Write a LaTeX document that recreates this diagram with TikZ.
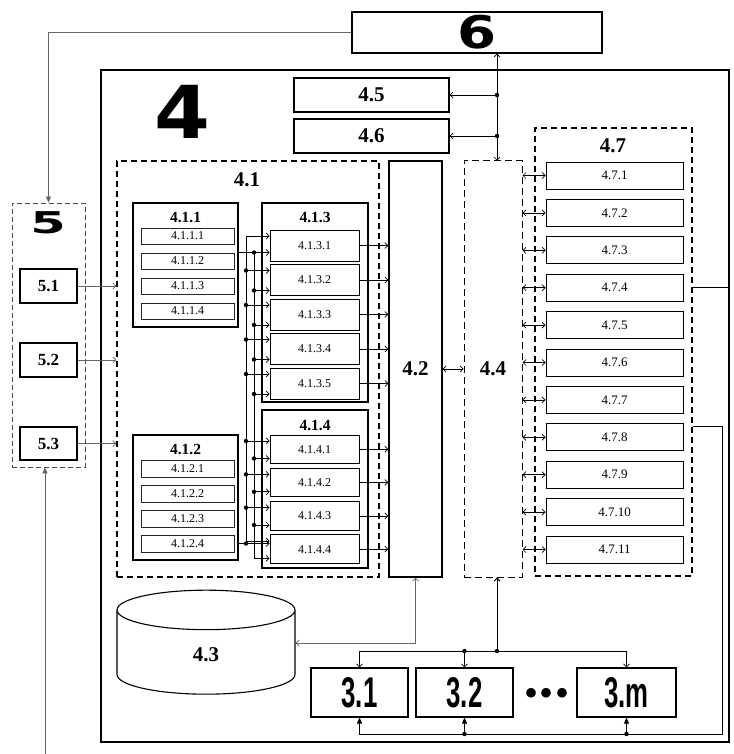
\documentclass[tikz,border=0pt]{standalone}
\usepackage{fontspec}
\setmainfont{Liberation Serif}
\newfontfamily\heavyfont{DejaVu Sans}
\newfontfamily\condfont{Liberation Sans}
\usetikzlibrary{arrows.meta, positioning, calc, shapes.geometric}

\begin{document}
\begin{tikzpicture}[x=1pt, y=-1pt,
  box/.style={rectangle, draw=black, line width=1.1pt, fill=white, inner sep=0pt},
  sub/.style={rectangle, draw=black!85, line width=0.8pt, inner sep=0pt,
              minimum width=93pt, minimum height=16pt, font=\fontsize{12}{12}\selectfont},
  unit/.style={rectangle, draw=black, line width=0.9pt, inner sep=0pt,
               minimum width=89pt, font=\fontsize{12}{12}\selectfont},
  reg/.style={rectangle, draw=black, line width=0.9pt, inner sep=0pt,
              minimum width=137pt, minimum height=27pt, font=\fontsize{13}{13}\selectfont},
  grp/.style={rectangle, draw=black, line width=1.4pt, dash pattern=on 6pt off 4pt, inner sep=0pt},
  big/.style={font=\fontsize{21}{21}\selectfont\bfseries},
  mid/.style={font=\fontsize{15.5}{15.5}\selectfont\bfseries},
  term/.style={rectangle, draw=black, line width=1.1pt, inner sep=0pt,
               minimum height=49pt, font=\condfont\bfseries\fontsize{43}{43}\selectfont},
  arr/.style={-{Straight Barb[length=3pt,width=6pt]}, line width=0.7pt},
  darr/.style={{Straight Barb[length=3pt,width=6pt]}-{Straight Barb[length=3pt,width=6pt]}, line width=0.7pt},
  farr/.style={-{Triangle[length=6pt,width=5pt]}, line width=0.7pt}
]
\useasboundingbox (0,0) rectangle (733,754);
%% Outer block and top block
\node[box, line width=2.2pt, minimum width=628pt, minimum height=672pt] (four) at (415,406) {};
\node[box, minimum width=250pt, minimum height=41pt,
      font=\heavyfont\bfseries\fontsize{45}{45}\selectfont] (six) at (477,32.5) {\scalebox{1.25}[1]{6}};
\node[font=\heavyfont\bfseries\fontsize{73}{73}\selectfont] (l4) at (182,112) {\scalebox{1.1}[1]{4}};
\node[box, big, minimum width=155pt, minimum height=34pt] (u45) at (371.5,95) {4.5};
\node[box, big, minimum width=155pt, minimum height=34pt] (u46) at (371.5,136) {4.6};
%% Groups
\node[grp, minimum width=262pt, minimum height=416pt] (g41) at (248,369) {};
\node[big] (l41) at (247,180) {4.1};
\node[box, big, line width=1.4pt, minimum width=53pt, minimum height=416pt] (u42) at (415.5,369) {4.2};
\node[grp, line width=1pt, dash pattern=on 7pt off 4pt, minimum width=58pt, minimum height=416pt, big] (g44) at (493,369) {4.4};
\node[grp, minimum width=157pt, minimum height=448pt] (g47) at (613.5,352) {};
\node[big] (l47) at (613,146) {4.7};
\node[grp, draw=black!70, line width=0.8pt, dash pattern=on 5pt off 3pt, minimum width=73pt, minimum height=264pt] (g5) at (48.5,335) {};
\node[font=\heavyfont\bfseries\fontsize{30}{30}\selectfont] (l5) at (48,223) {\scalebox{1.7}[1]{5}};
%% Sources 5.x
\node[box, font=\fontsize{17}{17}\selectfont\bfseries, minimum width=57pt, minimum height=34pt] (f1) at (48.5,286) {5.1};
\node[box, font=\fontsize{17}{17}\selectfont\bfseries, minimum width=57pt, minimum height=34pt] (f2) at (48.5,360) {5.2};
\node[box, font=\fontsize{17}{17}\selectfont\bfseries, minimum width=57pt, minimum height=33pt] (f3) at (48.5,443.5) {5.3};
%% Blocks inside 4.1
\node[box, minimum width=105pt, minimum height=124pt] (b411) at (185.5,265) {};
\node[mid] (l411) at (185.5,217) {4.1.1};
\node[box, minimum width=105pt, minimum height=125pt] (b412) at (185.5,497.5) {};
\node[mid] (l412) at (185.5,449) {4.1.2};
\node[box, minimum width=106pt, minimum height=199pt] (b413) at (315,302.5) {};
\node[mid] (l413) at (315,217) {4.1.3};
\node[box, minimum width=106pt, minimum height=158pt] (b414) at (315,489) {};
\node[mid] (l414) at (315,425) {4.1.4};
\foreach \k in {1,...,4}{
  \node[sub] (p\k) at (187.5,{236+25*(\k-1)}) {4.1.1.\k};
  \node[sub, minimum height=17pt] (q\k) at (187.5,{468.5+25*(\k-1)}) {4.1.2.\k};}
\foreach \k in {1,...,5}
  \node[unit, minimum height=31pt] (s\k) at (314.5,{245.5+34.5*(\k-1)}) {4.1.3.\k};
\foreach \k in {1,...,4}
  \node[unit, minimum height=28.5pt] (t\k) at (314.5,{449.25+33.3*(\k-1)}) {4.1.4.\k};
%% Registers 4.7.x
\foreach \i in {1,...,11}
  \node[reg] (r\i) at (614.5,{175.5+37.4*(\i-1)}) {4.7.\i};
%% Store and terminals
\node[draw, cylinder, shape border rotate=90, aspect=1.2, line width=1.1pt,
      minimum width=178pt, minimum height=104pt, big] (cyl) at (206,655) {4.3};
\node[term, minimum width=97pt] (c31) at (359.5,692.5) {\scalebox{0.6}[1]{3.1}};
\node[term, minimum width=97pt] (c32) at (464.5,692.5) {\scalebox{0.6}[1]{3.2}};
\node[term, minimum width=99pt] (c3m) at (626.5,692.5) {\scalebox{0.6}[1]{3.m}};
\node[font=\fontsize{40}{40}\selectfont] (etc) at (547,697) {\textbullet\hspace{1.5pt}\textbullet\hspace{1.5pt}\textbullet};
%% Bus from 6
\coordinate (sb) at (497,0);
\draw[darr] (six.south -| sb) -- (g44.north -| sb);
\foreach \u in {u45,u46}{
  \draw[arr] (\u.east -| sb) -- (\u.east);
  \fill (\u.east -| sb) circle (2.2pt);}
%% 6 -> 5 and input from below
\draw[farr, black!60] (six.west) -| (g5.north);
\coordinate (bl) at (45,754);
\draw[farr, black!60] (bl) -- (bl |- g5.south);
\foreach \f in {f1,f2,f3}
  \draw[arr, black!60] (\f.east) -- (\f.east -| g41.west);
%% Buses inside 4.1
\coordinate (busA) at (246,0);
\coordinate (busB) at (254,0);
\foreach \b in {s1,s2,s3,s4,s5,t1,t2,t3,t4}{
  \coordinate (\b a) at ($(\b.north west)+(0,6.5)$);
  \coordinate (\b b) at ($(\b.south west)+(0,-5.5)$);}
\coordinate (s1b) at ($(s1.south west)+(0,-9)$);
\draw[arr] (q4.east -| b412.east) -- (q4.east -| t4.west);
\draw[arr] (q4.east -| busA) -- (busA |- s1a) -- (s1a);
\fill (q4.east -| busA) circle (2.2pt);
\draw[arr] (b411.east |- s1b) -- (s1b);
\draw[arr] (busB |- s1b) -- (busB |- t4b) -- (t4b);
\fill (busB |- s1b) circle (2.2pt);
\foreach \b in {s2,s3,s4,s5,t1,t2,t3}{
  \draw[arr] (busA |- \b a) -- (\b a);
  \fill (busA |- \b a) circle (2.2pt);
  \draw[arr] (busB |- \b b) -- (\b b);
  \fill (busB |- \b b) circle (2.2pt);}
\draw[arr] (busA |- t4a) -- (t4a);
\foreach \b in {s1,s2,s3,s4,s5,t1,t2,t3,t4}
  \draw[arr] (\b.east) -- (\b.east -| u42.west);
%% 4.2 -- 4.4 -- 4.7
\draw[darr] (u42.east) -- (g44.west);
\foreach \i in {1,...,11}
  \draw[darr] (r\i.west -| g44.east) -- (r\i.west);
\draw[line width=0.7pt] (r4 -| g47.east) -- (r4 -| four.east);
%% 4.2 -> 4.3
\coordinate (cin) at ($(cyl.east)+(0,-12)$);
\draw[darr, black!60] (u42.south) |- (cin);
%% 4.4 -> terminals
\coordinate (tb) at (497,651);
\draw[arr, line width=1pt] (tb) -- (g44.south -| tb);
\draw[arr] (tb) -| (c3m.north);
\draw[arr] (tb) -| (c31.north);
\draw[arr] (c32.north |- tb) -- (c32.north);
\fill (tb) circle (2.2pt);
\fill (c32.north |- tb) circle (2.2pt);
%% 4.7 -> terminals
\coordinate (rb) at (722,734);
\draw[farr] ($(r8.north -| g47.east)+(0,3)$) -| (rb) -| (c31.south);
\draw[farr] (c32.south |- rb) -- (c32.south);
\draw[farr] (c3m.south |- rb) -- (c3m.south);
\fill (c32.south |- rb) circle (2.2pt);
\fill (c3m.south |- rb) circle (2.2pt);
\end{tikzpicture}
\end{document}
